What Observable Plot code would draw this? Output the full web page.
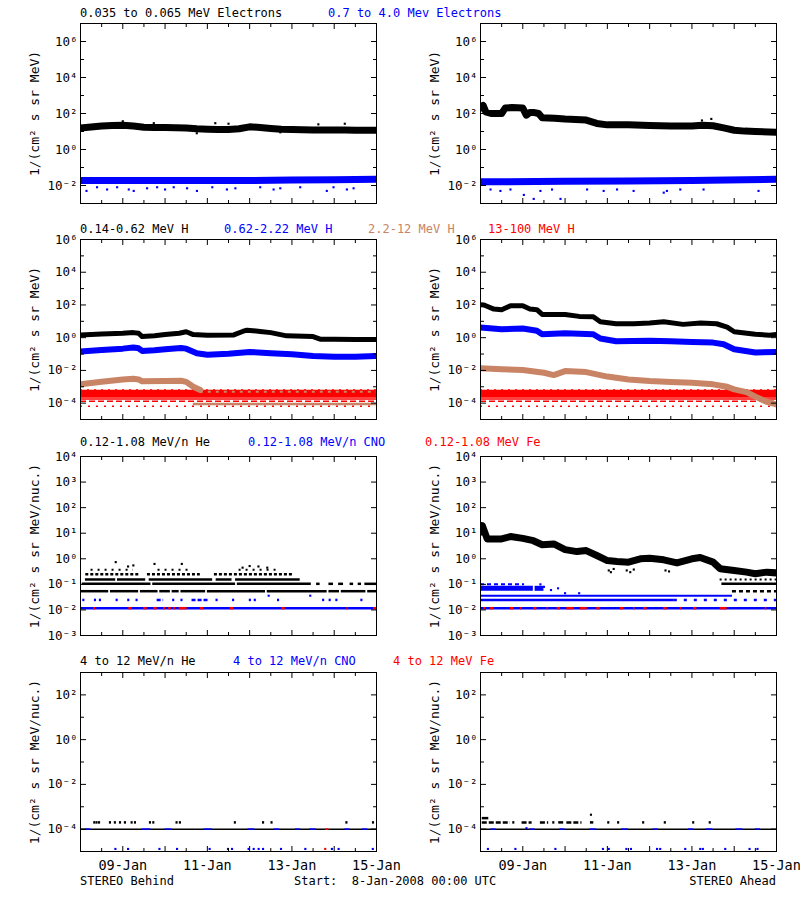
<!DOCTYPE html>
<html><head><meta charset="utf-8">
<script src="https://cdn.jsdelivr.net/npm/d3@7"></script>
<script src="https://cdn.jsdelivr.net/npm/@observablehq/plot@0.6"></script>
<style>
body{margin:0;background:#fff}
#root{position:relative;width:800px;height:900px;background:#fff;font-family:"DejaVu Sans Mono",monospace;overflow:hidden}
.lbl{position:absolute;white-space:pre;font-size:12px;line-height:12px}
#root svg{position:absolute;overflow:visible}
</style></head><body><div id="root"></div>
<script>
const BLACK = "#000000", BLUE = "#0000ff", TAN = "#c98466", RED = "#ff0000";
const FONT = "DejaVu Sans Mono, monospace";

// ---------- texts ----------
const TITLES = [
  {text: "0.035 to 0.065 MeV Electrons", color: BLACK, x: 80, y: 13},
  {text: "0.7 to 4.0 Mev Electrons", color: BLUE, x: 328, y: 13},
  {text: "0.14-0.62 MeV H", color: BLACK, x: 80, y: 229},
  {text: "0.62-2.22 MeV H", color: BLUE, x: 224, y: 229},
  {text: "2.2-12 MeV H", color: TAN, x: 368, y: 229},
  {text: "13-100 MeV H", color: RED, x: 488, y: 229},
  {text: "0.12-1.08 MeV/n He", color: BLACK, x: 80, y: 442},
  {text: "0.12-1.08 MeV/n CNO", color: BLUE, x: 248, y: 442},
  {text: "0.12-1.08 MeV Fe", color: RED, x: 425, y: 442},
  {text: "4 to 12 MeV/n He", color: BLACK, x: 80, y: 661},
  {text: "4 to 12 MeV/n CNO", color: BLUE, x: 233, y: 661},
  {text: "4 to 12 MeV Fe", color: RED, x: 393, y: 661}
];
const FOOTERS = [
  {text: "STEREO Behind", x: 80, y: 881, align: "left"},
  {text: "Start:  8-Jan-2008 00:00 UTC", x: 294, y: 881, align: "left"},
  {text: "STEREO Ahead", x: 776, y: 881, align: "right"}
];
const YLABEL_A = "1/(cm² s sr MeV)";
const YLABEL_B = "1/(cm² s sr MeV/nuc.)";

// ---------- time axis (hours since 8-Jan-2008 00:00 UTC) ----------
const START = Date.UTC(2008, 0, 8);
const SPAN_HOURS = 168;
const DAY_TICKS = [24, 48, 72, 96, 120, 144];
const HALF_TICKS = [12, 36, 60, 84, 108, 132, 156];
const LABEL_TICKS = [24, 72, 120, 168];

// ---------- row 1: electrons ----------
const eB_lo_h = [0,6,12,18,24,30,36,42,48,54,60,66,72,78,84,90,96,102,108,114,120,126,132,138,144,150,156,162,168];
const eB_lo_v = [15.8,17.8,20.0,21.4,22.4,20.0,17.4,16.6,16.6,16.2,15.8,14.1,13.5,12.9,12.9,14.1,18.2,16.6,14.8,13.5,12.9,12.6,12.3,12.3,12.3,12.0,11.7,11.7,11.7];
const eB_lo_out_h = [24,41.6,76.5,84,135,150,66,113.4];
const eB_lo_out_v = [37,29,29,27,25,27,8,9];
const eB_hi_h = [0,24,48,72,96,120,144,168];
const eB_hi_v = [0.019,0.019,0.019,0.019,0.019,0.020,0.021,0.022];
const eB_hi_out_h = [3.4,9.4,15.1,20.8,27.4,30.2,37.8,43.5,48,52.9,60.5,66.1,74.8,83.1,87.9,102,109.6,113.4,124.7,139.8,143.6,151.2,155];
const eB_hi_out_v = [0.005,0.008,0.006,0.008,0.006,0.005,0.007,0.008,0.006,0.008,0.007,0.005,0.008,0.006,0.007,0.008,0.006,0.007,0.008,0.005,0.008,0.006,0.007];

const eA_lo_h = [0,1.5,3,6,12,14,18,24,26,28,30,33,35,42,48,60,66,72,84,96,108,120,126,132,138,144,150,156,168];
const eA_lo_v = [200,282,123,100,100,200,214,200,81,115,115,100,58,55,49,43,28,23.4,23.4,21.4,20.4,20.4,22.4,20.9,15.8,11.7,10.5,10.0,9.1];
const eA_lo_out_h = [125.7,131];
const eA_lo_out_v = [41,50];
const eA_hi_h = [0,48,84,120,150,168];
const eA_hi_v = [0.016,0.017,0.018,0.019,0.021,0.022];
const eA_hi_out_h = [5.7,11.3,17,24.6,30.2,34,40.6,45.4,60.5,69.9,77.5,86.9,104,105.8,113.4,126.6,157.8];
const eA_hi_out_v = [0.006,0.005,0.006,0.003,0.0018,0.005,0.006,0.0018,0.006,0.005,0.006,0.005,0.004,0.005,0.006,0.006,0.005];

// ---------- row 2: protons ----------
const pB_1_h = [0,12,24,30,33,35,42,48,56,60,64,72,87,92,94.5,102,108,117,132,136,144,156,168];
const pB_1_v = [1.48,1.70,1.86,2.04,1.86,1.17,1.32,1.55,1.86,2.29,1.55,1.41,1.48,2.40,2.88,2.40,2.04,1.29,1.17,0.81,0.81,0.78,0.78];
const pB_2_h = [0,12,24,30,33,35,42,48,57,60,66,72,84,96,108,120,132,144,156,168];
const pB_2_v = [0.141,0.178,0.214,0.251,0.224,0.155,0.170,0.195,0.234,0.214,0.112,0.091,0.105,0.135,0.112,0.098,0.076,0.069,0.069,0.076];
const pB_3_h = [0,12,24,30,33,35,48,57,60,64,68];
const pB_3_v = [1.41e-3,2.04e-3,2.82e-3,3.09e-3,2.82e-3,2.14e-3,2.24e-3,2.34e-3,2.0e-3,1.0e-3,6.3e-4];
const pB_3_floor = 9e-5, pB_3_floor_seg = [[64,168]];
const pB_3_sparse = 5e-4, pB_3_sparse_seg = [[68,168]];

const pA_1_h = [0,2,4,7.6,12,17,24,28,32,35,48,56,64,68,77,87,96,104,115,125,134,140,144,156,164,168];
const pA_1_v = [102,100,81,56,51,89,89,56,51,26.3,26.3,20,19,9.3,7.1,7.1,7.8,9.3,6.5,7.8,7.1,4.4,2.3,1.62,1.41,1.58];
const pA_2_h = [0,12,24,32,35,48,64,68,77,96,108,120,132,138,144,156,168];
const pA_2_v = [4.17,3.31,3.63,2.63,1.62,1.86,1.62,0.89,0.60,0.66,0.60,0.55,0.50,0.40,0.195,0.123,0.135];
const pA_3_h = [0,12,24,36,41.6,48,60,72,84,96,108,120,132,140,144,151,156,162,168];
const pA_3_v = [1.35e-2,1.17e-2,1.05e-2,7.2e-3,5.2e-3,9.1e-3,7.9e-3,4.2e-3,2.8e-3,2.24e-3,1.95e-3,1.78e-3,1.41e-3,1.0e-3,6.9e-4,4.7e-4,2.5e-4,1.26e-4,8.3e-5];

const p_4_h = [0,168];
const p_4_v = [3.8e-4,3.8e-4];
const p_4_levels = [1.8e-4, 1.3e-4, 6.5e-5, 6.2e-4];

// ---------- row 3: 0.12-1.08 MeV/n ions ----------
const heB_054 = [[0,16],[17,33],[34,44],[45,51],[52,56],[57,71],[72,105],[106,140],[141,147],[148,162],[163,168]];
const heB_105 = [[1,40],[41,88],[89,131],[134,136],[141,143.6],[146.5,149.3],[153,155],[157.6,159.5],[161.4,168]];
const heB_155 = [[2.8,20],[21,37],[39,75],[77,86],[88,124.7]];
const heB_25 = [[3,34],[38,68],[76,121]];
const heB_37 = [[6,30],[44,62],[90,112]];
const heB_peak_h = [20,27,30,42,57.5,92,96,101,106];
const heB_peak_v = [0.74,0.5,0.55,0.63,0.63,0.45,0.52,0.5,0.45];
const cnoB_025_h = [1.9,8.5,11.3,20.8,27.4,32.1,52.9,57.6,77.5,86.9,96.4,99.2,112.4,138,141.7,145.5,159.7];
const cnoB_025_seg = [[43.5,47.2],[63.3,72.8]];
const cnoB_036_h = [106.8,130.4];
const feB_seg = [[7.5,8.5],[27.4,29.3],[35.9,37.8],[41.6,43.5],[47.2,48.4],[50,51.5],[53,54],[56,60.5],[68,70],[85,87],[114.3,116.2],[151.2,152],[166.3,168]];

const heA_h = [0,1,3.8,12,17,24,30,35,41.6,48,54.8,60,66,72,77.5,84,90.7,96,104,111.5,120,124.7,132,136,144,151,156,162.5,168];
const heA_v = [11,20,6.0,6.0,7.4,6.3,5.1,3.55,3.8,2.29,1.91,2.09,1.35,0.85,0.78,0.74,1.0,1.05,0.91,0.69,1.0,1.12,0.74,0.41,0.35,0.30,0.26,0.30,0.28];
const heA_low_h = [72.8,74,75.6,83,85,87,105,107];
const heA_low_v = [0.35,0.3,0.4,0.35,0.3,0.38,0.35,0.32];
const heA_tail_155 = [[136,168]], heA_tail_105 = [[137,168]], heA_tail_054 = [[143,168]];
const cnoA_cluster = [[0,30],[31,36]];
const cnoA_top = [[0,25]];
const cnoA_dot_h = [34,36,40,44,48,56];
const cnoA_dot_v = [0.1,0.08,0.06,0.07,0.045,0.045];
const cnoA_036 = [[0,143]];
const cnoA_025_dense = [[0,110]], cnoA_025_sparse = [[110,168]];
const feA_seg = [[2,3],[5.7,7.5],[17,19],[22.7,23.5],[30.2,32],[37.8,38.6],[43.5,45.4],[49,53],[56.7,60.5],[66,68],[79.4,81.3],[86.9,87.7],[92.6,94.5],[104,106],[113.4,114.3],[120.9,122.8],[136,140],[161.6,162.5]];

// ---------- row 4: 4-12 MeV/n ions ----------
const he4B_h = [8.1,9.4,10.8,17,19.8,22.7,25.5,29.3,31.2,39.7,41.6,54.8,56.7,87.9,103.9,108.7,151.2,166.3];
const cno4B_h = [19.8,27.0,44.8,54.8,73.3,83.7,86.0,95.4,98.3,101.1,103.6,113.8,127.6,142.7,146.5,165.9];
const fe4B_h = [138.9];
const he4A_seg = [[1,17],[23.6,29.3],[34,38.7],[44.4,47.2],[49,57.6],[62.4,64.3]];
const he4A_h = [18.9,41.6,72.8,78.4,92.6,104.9,121,130.4];
const he4A_hi_seg = [[1,4.7]];
const he4A_top_h = [62.7];
const cno4A_h = [4.2,19.8,42.5,69.5,72.8,82.8,85.4,100.2,102,116.2,124.7,126.2,138.9,152.7,157.2];
const cno4A_mid_h = [26.1];
const floor4_seg = [[0,168]];
const cno4B_floor_seg = [[3,6],[35,40],[48,52],[70,75],[95,99],[110,113],[122,125],[130,134],[150,153],[160,163]];
const cno4A_floor_seg = [[6,9],[28,31],[45,48],[62,66],[80,84],[98,101],[118,121],[128,132],[145,149],[156,159]];
const fe4_floor_seg = [[139,141]];
const LV4 = {floor: 1e-4, he: 2.0e-4, heHi: 3.1e-4, heTop: 4.4e-4, cnoLow: 1.3e-5, cnoMid: 1.1e-4};

// ---------- helpers ----------
const T = h => new Date(START + h * 3600000);
const SUP = {"-":"⁻","0":"⁰","1":"¹","2":"²","3":"³","4":"⁴","5":"⁵","6":"⁶","7":"⁷","8":"⁸","9":"⁹"};
const sup = d => "10" + String(Math.round(Math.log10(d))).split("").map(c => SUP[c]).join("");

const band = (h, v, color, w) => Plot.line(h.map((x, i) => ({t: T(x), v: v[i]})),
  {x: "t", y: "v", stroke: color, strokeWidth: w, strokeLinejoin: "round", clip: true});
const lvl = (segs, value, color, w, dash) => Plot.ruleY(segs.map(([a, b]) => ({a: T(a), b: T(b), v: value})),
  {y: "v", x1: "a", x2: "b", stroke: color, strokeWidth: w, strokeDasharray: dash, clip: true});
const shortSegs = (h, half) => h.map(x => [x - half, x + half]);
const pts = (h, v, color, r = 1.2) => Plot.dot(h.map((x, i) => ({t: T(x), v: Array.isArray(v) ? v[i] : v})),
  {x: "t", y: "v", fill: color, stroke: null, r, symbol: "square", clip: true});

const ROWS = [
  {top: 23, h: 180, domain: [1e-3, 1e7], major: [-2,0,2,4,6], minor: [-1,1,3,5], ylabel: YLABEL_A},
  {top: 239, h: 180, domain: [1e-5, 1e6], major: [-4,-2,0,2,4,6], minor: [-3,-1,1,3,5], ylabel: YLABEL_A},
  {top: 456, h: 179, domain: [1e-3, 1e4], major: [-3,-2,-1,0,1,2,3,4], minor: [], ylabel: YLABEL_B},
  {top: 672, h: 179, domain: [1e-5, 1e3], major: [-4,-2,0,2], minor: [-3,-1,1], ylabel: YLABEL_B, xlabels: true}
];

const root = document.getElementById("root");

function panel(row, col, marks) {
  const cfg = ROWS[row];
  const mt = 14, mb = cfg.xlabels ? 30 : 14;
  const major = cfg.major.map(e => Math.pow(10, e));
  const minor = cfg.minor.map(e => Math.pow(10, e));
  const dayT = DAY_TICKS.map(T), halfT = HALF_TICKS.map(T);
  const none = () => "";
  const axes = [
    Plot.axisY(major, {anchor: "left", tickSize: 6, dx: 6, tickFormat: none, label: null}),
    Plot.axisY(minor, {anchor: "left", tickSize: 4, dx: 4, tickFormat: none, label: null}),
    Plot.axisY(major, {anchor: "right", tickSize: 6, dx: -6, tickFormat: none, label: null}),
    Plot.axisY(minor, {anchor: "right", tickSize: 4, dx: -4, tickFormat: none, label: null}),
    Plot.axisY(major, {anchor: "left", tickSize: 0, tickPadding: 3, tickFormat: sup, label: null, fontSize: 12.5}),
    Plot.axisX(dayT, {anchor: "bottom", tickSize: 5, dy: -5, tickFormat: none, label: null}),
    Plot.axisX(halfT, {anchor: "bottom", tickSize: 3, dy: -3, tickFormat: none, label: null}),
    Plot.axisX(dayT, {anchor: "top", tickSize: 5, dy: 5, tickFormat: none, label: null}),
    Plot.axisX(halfT, {anchor: "top", tickSize: 3, dy: 3, tickFormat: none, label: null}),
    Plot.text([cfg.ylabel], {frameAnchor: "left", text: d => d, rotate: -90, dx: -46,
      textAnchor: "middle", lineAnchor: "middle", fontSize: 13})
  ];
  if (cfg.xlabels) {
    axes.push(Plot.axisX(LABEL_TICKS.map(T), {anchor: "bottom", tickSize: 0, tickPadding: 9,
      tickFormat: d3.utcFormat("%d-%b"), label: null, fontSize: 13.5}));
  }
  const chart = Plot.plot({
    width: 400, height: cfg.h + mt + mb,
    marginLeft: 80, marginRight: 24, marginTop: mt, marginBottom: mb,
    style: {fontFamily: FONT, fontSize: "12.5px", background: "transparent", color: "black"},
    x: {type: "utc", domain: [T(0), T(SPAN_HOURS)]},
    y: {type: "log", domain: cfg.domain},
    marks: [...marks, ...axes, Plot.frame({stroke: "black", strokeWidth: 1})]
  });
  chart.style.left = (col * 400) + "px";
  chart.style.top = (cfg.top - mt) + "px";
  root.append(chart);
}

// Row 1
panel(0, 0, [
  pts(eB_hi_out_h, eB_hi_out_v, BLUE),
  band(eB_hi_h, eB_hi_v, BLUE, 7),
  pts(eB_lo_out_h, eB_lo_out_v, BLACK),
  band(eB_lo_h, eB_lo_v, BLACK, 7)
]);
panel(0, 1, [
  pts(eA_hi_out_h, eA_hi_out_v, BLUE),
  band(eA_hi_h, eA_hi_v, BLUE, 7),
  pts(eA_lo_out_h, eA_lo_out_v, BLACK),
  band(eA_lo_h, eA_lo_v, BLACK, 7)
]);

// Row 2
const redMarks = () => [
  lvl([[0,168]], p_4_levels[0], RED, 1.5),
  lvl([[0,168]], p_4_levels[1], RED, 1.5, "6,3"),
  lvl([[0,168]], p_4_levels[2], RED, 1.5, "2,6"),
  lvl([[0,168]], p_4_levels[3], RED, 2, "2,5"),
  band(p_4_h, p_4_v, RED, 8)
];
panel(1, 0, [
  lvl(pB_3_floor_seg, pB_3_floor, TAN, 2.5),
  ...redMarks(),
  lvl(pB_3_sparse_seg, pB_3_sparse, TAN, 2, "3,5"),
  band(pB_3_h, pB_3_v, TAN, 6),
  band(pB_2_h, pB_2_v, BLUE, 6),
  band(pB_1_h, pB_1_v, BLACK, 5)
]);
panel(1, 1, [
  ...redMarks(),
  band(pA_3_h, pA_3_v, TAN, 6),
  band(pA_2_h, pA_2_v, BLUE, 6),
  band(pA_1_h, pA_1_v, BLACK, 5)
]);

// Row 3
panel(2, 0, [
  lvl([[0,168]], 0.0117, BLUE, 2.5),
  lvl(feB_seg, 0.0117, RED, 2.5),
  lvl(shortSegs(cnoB_025_h, 0.6), 0.0246, BLUE, 2.5),
  lvl(cnoB_025_seg, 0.0246, BLUE, 2.5, "4,2"),
  pts(cnoB_036_h, 0.036, BLUE),
  lvl(heB_054, 0.054, BLACK, 2.5),
  lvl(heB_105, 0.105, BLACK, 2.5),
  lvl(heB_155, 0.155, BLACK, 2.5),
  lvl(heB_25, 0.25, BLACK, 2.5, "3,2"),
  lvl(heB_37, 0.37, BLACK, 2, "2,5"),
  pts(heB_peak_h, heB_peak_v, BLACK)
]);
panel(2, 1, [
  lvl([[0,168]], 0.0117, BLUE, 2.5),
  lvl(feA_seg, 0.0117, RED, 2.5),
  lvl(cnoA_025_dense, 0.0246, BLUE, 2.5),
  lvl(cnoA_025_sparse, 0.0246, BLUE, 2.5, "3,7"),
  lvl(cnoA_036, 0.036, BLUE, 2),
  lvl(cnoA_cluster, 0.07, BLUE, 5),
  lvl(cnoA_top, 0.1, BLUE, 2, "4,3"),
  pts(cnoA_dot_h, cnoA_dot_v, BLUE),
  lvl(heA_tail_155, 0.155, BLACK, 2, "2,3"),
  lvl(heA_tail_105, 0.105, BLACK, 2.5),
  lvl(heA_tail_054, 0.054, BLACK, 2.5, "4,3"),
  pts(heA_low_h, heA_low_v, BLACK),
  band(heA_h, heA_v, BLACK, 7)
]);

// Row 4
panel(3, 0, [
  lvl(floor4_seg, LV4.floor, BLACK, 1.5),
  lvl(cno4B_floor_seg, LV4.floor, BLUE, 1.5),
  lvl(fe4_floor_seg, LV4.floor, RED, 1.5),
  lvl(shortSegs(he4B_h, 0.6), LV4.he, BLACK, 2.5),
  pts(cno4B_h, LV4.cnoLow, BLUE),
  pts(fe4B_h, LV4.cnoLow, RED)
]);
panel(3, 1, [
  lvl(floor4_seg, LV4.floor, BLACK, 1.5),
  lvl(cno4A_floor_seg, LV4.floor, BLUE, 1.5),
  lvl(he4A_seg, LV4.he, BLACK, 2.5, "5,2"),
  lvl(shortSegs(he4A_h, 0.6), LV4.he, BLACK, 2.5),
  lvl(he4A_hi_seg, LV4.heHi, BLACK, 2.5),
  pts(he4A_top_h, LV4.heTop, BLACK),
  pts(cno4A_h, LV4.cnoLow, BLUE),
  pts(cno4A_mid_h, LV4.cnoMid, BLUE)
]);

// ---------- HTML texts ----------
for (const t of TITLES) {
  const d = document.createElement("div");
  d.className = "lbl";
  d.textContent = t.text;
  d.style.color = t.color;
  d.style.left = t.x + "px";
  d.style.top = (t.y - 6) + "px";
  root.append(d);
}
for (const t of FOOTERS) {
  const d = document.createElement("div");
  d.className = "lbl";
  d.textContent = t.text;
  d.style.color = BLACK;
  d.style.top = (t.y - 6) + "px";
  if (t.align === "right") d.style.right = (800 - t.x) + "px";
  else d.style.left = t.x + "px";
  root.append(d);
}
</script></body></html>
